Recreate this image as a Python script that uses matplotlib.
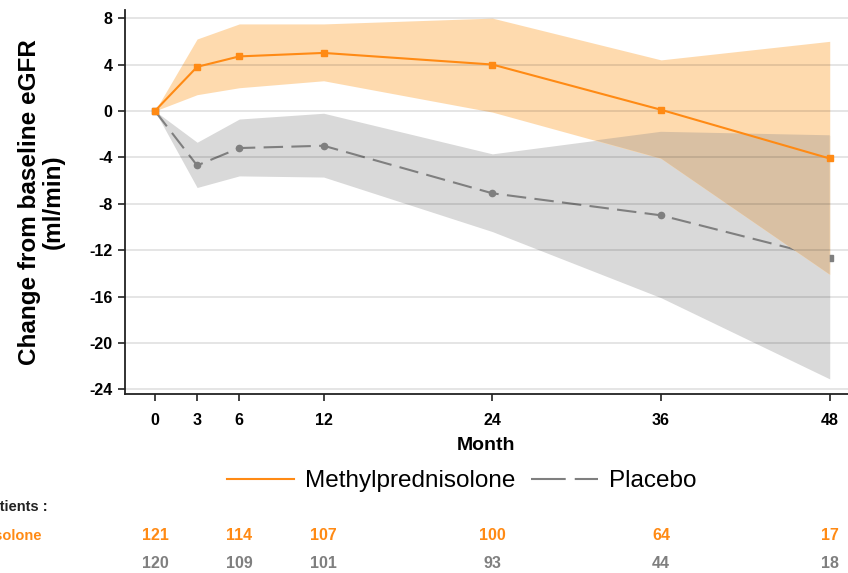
import matplotlib
matplotlib.use("Agg")
import matplotlib.pyplot as plt
import numpy as np
from matplotlib.transforms import blended_transform_factory
from matplotlib.lines import Line2D

plt.rcParams['font.family'] = ['Liberation Sans', 'DejaVu Sans']
plt.rcParams['lines.scale_dashes'] = False

months = [0, 3, 6, 12, 24, 36, 48]
mp_mean = [0, 3.8, 4.7, 5.0, 4.0, 0.1, -4.1]
mp_upper = [0, 6.2, 7.5, 7.5, 8.0, 4.4, 6.0]
mp_lower = [0, 1.4, 2.0, 2.6, -0.1, -4.1, -14.1]
pl_mean = [0, -4.7, -3.2, -3.0, -7.1, -9.0, -12.7]
pl_upper = [0, -2.7, -0.7, -0.2, -3.7, -1.8, -2.1]
pl_lower = [0, -6.6, -5.6, -5.7, -10.4, -16.1, -23.1]

n_months = [0, 6, 12, 24, 36, 48]
n_mp = [121, 114, 107, 100, 64, 17]
n_pl = [120, 109, 101, 93, 44, 18]

yticks = [8, 4, 0, -4, -8, -12, -16, -20, -24]

ORANGE = '#FF8A14'
ORANGE_FILL = '#FEDAAE'
GREY = '#7F7F7F'
GREY_FILL = '#D9D9D9'
OVERLAP = '#D9C0A3'

W, H = 848, 573
fig = plt.figure(figsize=(W / 100, H / 100), dpi=100)
ax = fig.add_axes([125 / W, 1 - 394 / H, 1 - 125 / W, (394 - 10) / H])

x = np.array(months, dtype=float)
mpu, mpl_, plu, pll = map(np.array, (mp_upper, mp_lower, pl_upper, pl_lower))

ax.fill_between(x, pll, plu, color=GREY_FILL, lw=0, zorder=1)
ax.fill_between(x, mpl_, mpu, color=ORANGE_FILL, lw=0, zorder=1)
ax.fill_between(x, np.maximum(mpl_, pll), np.minimum(mpu, plu),
                where=np.minimum(mpu, plu) >= np.maximum(mpl_, pll),
                interpolate=True, color=OVERLAP, lw=0, zorder=3)

ax.plot(months, pl_mean, color=GREY, lw=1.5, dashes=(14, 6), zorder=2.5)
ax.plot(months[1:-1], pl_mean[1:-1], color=GREY, lw=0, marker='o', ms=4.5,
        zorder=2.6)
ax.plot([months[0], months[-1]], [pl_mean[0], pl_mean[-1]], color=GREY, lw=0,
        marker='s', ms=4.5, zorder=2.6)
ax.plot(months, mp_mean, color=ORANGE, lw=1.5, marker='s', ms=4.5, zorder=4)

for yt in yticks:
    ax.axhline(yt, color='black', alpha=0.12, lw=1.2, zorder=3.5)

ax.set_xlim(-2.13, 49.3)
ax.set_ylim(-24.4, 8.7)
ax.set_xticks(months)
ax.set_yticks(yticks)
ax.set_xticklabels([str(m) for m in months], fontweight='bold', fontsize=11.5)
ax.set_yticklabels([str(v) for v in yticks], fontweight='bold', fontsize=11.5)
ax.tick_params(direction='out', length=5, width=1.2, color='#222222')
ax.tick_params(axis='x', pad=9)
ax.tick_params(axis='y', pad=4)
for s in ['top', 'right']:
    ax.spines[s].set_visible(False)
for s in ['left', 'bottom']:
    ax.spines[s].set_linewidth(1.3)
    ax.spines[s].set_color('#222222')

ax.set_xlabel('Month', fontweight='bold', fontsize=14, labelpad=6)
ax.set_ylabel('Change from baseline eGFR\n(ml/min)', fontweight='bold',
              fontsize=17.5, linespacing=1.0)
ax.yaxis.set_label_coords(-0.084, 0.5)

handles = [Line2D([], [], color=ORANGE, lw=1.5),
           Line2D([], [], color=GREY, lw=1.5, dashes=(25, 6.5))]
fig.legend(handles, ['Methylprednisolone', 'Placebo'], ncol=2,
           loc='center', bbox_to_anchor=(462 / W, 1 - 481 / H),
           frameon=False, fontsize=17.5, handlelength=2.75, handletextpad=0.45,
           columnspacing=0.65)

fig.text(48 / W, 1 - 507 / H, 'Number of patients :', ha='right',
         va='center', fontsize=10.5, fontweight='bold', color='#222222')
fig.text(42 / W, 1 - 536 / H, 'Methylprednisolone', ha='right',
         va='center', fontsize=10.5, fontweight='bold', color=ORANGE)
fig.text(-80 / W, 1 - 564 / H, 'Placebo', ha='left',
         va='center', fontsize=10.5, fontweight='bold', color=GREY)

tr = blended_transform_factory(ax.transData, fig.transFigure)
for m, a, b in zip(n_months, n_mp, n_pl):
    ax.text(m, 1 - 536 / H, str(a), transform=tr, ha='center', va='center',
            fontsize=11.5, fontweight='bold', color=ORANGE)
    ax.text(m, 1 - 564 / H, str(b), transform=tr, ha='center', va='center',
            fontsize=11.5, fontweight='bold', color=GREY)

fig.savefig('out.png', dpi=100)
